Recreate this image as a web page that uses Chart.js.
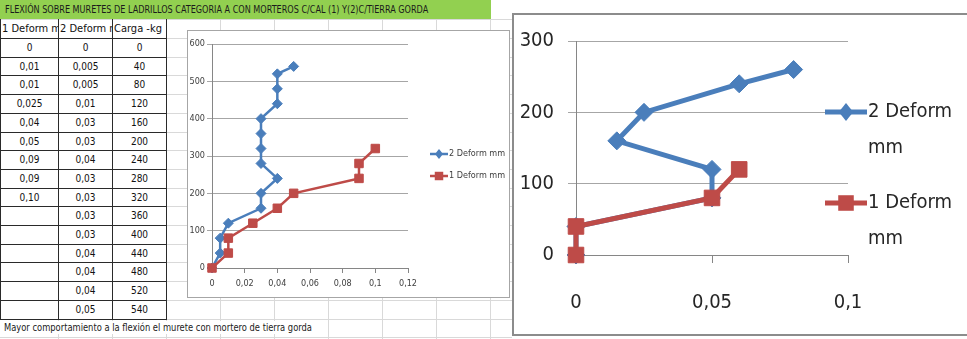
<!DOCTYPE html>
<html>
<head>
<meta charset="utf-8">
<script src="https://cdn.jsdelivr.net/npm/chart.js@4.4.0/dist/chart.umd.min.js"></script>
<style>
  body { margin: 0; width: 967px; height: 339px; overflow: hidden; background: #fff; position: relative;
         font-family: 'Liberation Sans Narrow', 'DejaVu Sans Condensed', sans-serif; }
  #sheet { position: absolute; left: 0; top: 0; width: 512px; height: 339px; }
  #title { position: absolute; left: 0; top: 0; width: 491px; height: 19px; background: #92d050; }
  .fit { position: absolute; white-space: nowrap; transform-origin: left top; color: #1b1b1b; }
  .cell { position: absolute; text-align: center; overflow: hidden; white-space: nowrap; font-size: 10px; color: #111; }
  .head { text-align: left; font-size: 11px; padding-left: 1px; box-sizing: border-box; }
  #box1 { position: absolute; left: 187px; top: 30px; width: 321px; height: 266px; border: 1px solid #a6a6a6; background: #fff; }
  #box2 { position: absolute; left: 512px; top: 13px; width: 460px; height: 319px; border: 2px solid #8c8c8c; background: #fff; }
  canvas { display: block; }
</style>
</head>
<body>
<div id="sheet"></div>
<div id="title"><span class="fit" id="titleTxt" style="left:5px;top:3px;font-size:11px">FLEXIÓN SOBRE MURETES DE LADRILLOS CATEGORIA A CON MORTEROS C/CAL (1) Y(2)C/TIERRA GORDA</span></div>
<span class="fit" id="footTxt" style="left:4px;top:321px;font-size:11px;background:#fff">Mayor comportamiento a la flexión el murete con mortero de tierra gorda</span>
<div id="box1"><canvas id="chart1" width="321" height="266"></canvas></div>
<div id="box2"><canvas id="chart2" width="453" height="319"></canvas></div>
<script>
// table / small chart data
const colHeaders = ['1 Deform mm', '2 Deform mm', 'Carga -kg']
const carga = [0, 40, 80, 120, 160, 200, 240, 280, 320, 360, 400, 440, 480, 520, 540]
const deform1 = [0, 0.01, 0.01, 0.025, 0.04, 0.05, 0.09, 0.09, 0.10]
const deform2 = [0, 0.005, 0.005, 0.01, 0.03, 0.03, 0.04, 0.03, 0.03, 0.03, 0.03, 0.04, 0.04, 0.04, 0.05]
const seriesNames = ['2 Deform mm', '1 Deform mm']
const xTicks1 = [0, 0.02, 0.04, 0.06, 0.08, 0.1, 0.12]
const yTicks1 = [0, 100, 200, 300, 400, 500, 600]

// enlarged chart on the right
const zoomCarga2 = [0, 40, 80, 120, 160, 200, 240, 260]
const zoomDeform2 = [0, 0, 0.05, 0.05, 0.015, 0.025, 0.06, 0.08]
const zoomCarga1 = [0, 40, 80, 120]
const zoomDeform1 = [0, 0, 0.05, 0.06]
const xTicks2 = [0, 0.05, 0.1]
const yTicks2 = [0, 100, 200, 300]

const BLUE = '#4a7ebb'
const RED = '#be4b48'
const FAMILY = "'Liberation Sans Narrow', 'DejaVu Sans Condensed', sans-serif"

const fmt = v => String(Math.round(v * 1000) / 1000).replace('.', ',')
function cellTxt(v) {
  if (v === undefined) return ''
  if (v === 0) return '0'
  const d = Math.max(2, (String(v).split('.')[1] || '').length)
  return v.toFixed(d).replace('.', ',')
}

// ---- spreadsheet ----
const sheet = document.getElementById('sheet')
function line(x, y, w, h, c) {
  const d = document.createElement('div')
  d.style.cssText = `position:absolute;left:${x}px;top:${Math.round(y)}px;width:${w}px;height:${h}px;background:${c}`
  sheet.appendChild(d)
}
function cell(x0, x1, y, h, txt, cls) {
  const d = document.createElement('div')
  d.className = 'cell ' + (cls || '')
  d.style.cssText += `left:${x0 + 1}px;top:${Math.round(y)}px;width:${x1 - x0 - 1}px;height:${h}px;line-height:${h}px`
  d.textContent = txt
  sheet.appendChild(d)
}
const colX = [0, 58, 112, 166, 220, 274, 328, 382, 436, 490]
const rowH = 18.7, top0 = 38
const rowLines = [19, top0]
for (let i = 1; i <= 16; i++) rowLines.push(top0 + i * rowH)
rowLines.forEach(y => line(0, y, 512, 1, '#d9d9d9'))
colX.slice(1).forEach(x => line(x, 19, 1, 320, '#d9d9d9'))

// table
const nRows = carga.length
const tBottom = Math.round(top0 + nRows * rowH)
colHeaders.forEach((h, j) => cell(colX[j], colX[j + 1], 19, 19, h, 'head'))
for (let i = 0; i < nRows; i++) {
  const y = top0 + i * rowH
  cell(colX[0], colX[1], y, 19, cellTxt(deform1[i]))
  cell(colX[1], colX[2], y, 19, cellTxt(deform2[i]))
  cell(colX[2], colX[3], y, 19, String(carga[i]))
}
for (let i = 0; i <= nRows; i++) line(0, top0 + i * rowH, 167, 1, '#2a2a2a')
;[0, 58, 112, 166].forEach(x => line(x, 19, 1, tBottom - 19 + 1, '#2a2a2a'))

// squeeze texts to the widths seen in the sheet
function fitWidth(id, w) {
  const el = document.getElementById(id)
  el.style.transform = `scaleX(${w / el.scrollWidth})`
}
fitWidth('titleTxt', 423)
fitWidth('footTxt', 308)

// ---- legend with line + marker, like the spreadsheet program ----
function marker(ctx, style, r, x, y) {
  ctx.beginPath()
  if (style === 'rectRot') {
    ctx.moveTo(x - r * 0.8, y); ctx.lineTo(x, y - r); ctx.lineTo(x + r * 0.8, y); ctx.lineTo(x, y + r)
  } else {
    const s = r * Math.SQRT1_2
    ctx.rect(x - s, y - s, 2 * s, 2 * s)
  }
  ctx.closePath()
  ctx.fill()
}
const sideLegend = {
  id: 'sideLegend',
  afterDraw(chart, args, o) {
    const ctx = chart.ctx
    ctx.save()
    ctx.font = `${o.size}px ${FAMILY}`
    ctx.textBaseline = 'middle'
    chart.data.datasets.forEach((ds, i) => {
      const y = o.y[i]
      ctx.strokeStyle = ds.borderColor
      ctx.lineWidth = ds.borderWidth
      ctx.beginPath(); ctx.moveTo(o.x, y); ctx.lineTo(o.x + o.len, y); ctx.stroke()
      ctx.fillStyle = ds.pointBackgroundColor
      marker(ctx, ds.pointStyle, ds.pointRadius, o.x + o.len / 2, y)
      // word wrap
      const words = ds.label.split(' ')
      const lines = []
      let cur = ''
      words.forEach(w => {
        const t = cur ? cur + ' ' + w : w
        if (cur && ctx.measureText(t).width > o.maxW) { lines.push(cur); cur = w } else cur = t
      })
      lines.push(cur)
      ctx.fillStyle = o.color
      lines.forEach((t, k) => ctx.fillText(t, o.x + o.len + 1, y + k * o.lineH))
    })
    ctx.restore()
  }
}

function points(xs, ys) { return xs.map((x, i) => ({ x: x, y: ys[i] })) }
function series(label, data, color, style, radius, width, order) {
  return {
    label: label, data: data, showLine: true, clip: false, order: order,
    borderColor: color, backgroundColor: color, borderWidth: width,
    pointStyle: style, pointRadius: radius, pointHoverRadius: radius,
    pointBackgroundColor: color, pointBorderColor: color, pointBorderWidth: 1
  }
}
function axis(ticksArr, opt) {
  return {
    type: 'linear', position: opt.pos, min: ticksArr[0], max: ticksArr[ticksArr.length - 1],
    afterBuildTicks: s => { s.ticks = ticksArr.map(v => ({ value: v })) },
    afterFit: s => { if (opt.pos === 'bottom') s.height = opt.fit; else s.width = opt.fit },
    ticks: { callback: v => fmt(v), autoSkip: false, maxRotation: 0, padding: opt.pad,
             color: opt.color, font: { family: FAMILY, size: opt.size } },
    grid: { drawOnChartArea: opt.pos !== 'bottom', tickLength: opt.tick, color: opt.grid },
    border: { display: true, color: '#868686' }
  }
}

// small chart inside the sheet
new Chart(document.getElementById('chart1'), {
  type: 'scatter',
  data: {
    datasets: [
      series(seriesNames[0], points(deform2, carga), BLUE, 'rectRot', 5, 2.5, 2),
      series(seriesNames[1], points(deform1, carga), RED, 'rect', 6, 2.5, 1)
    ]
  },
  options: {
    responsive: false, animation: false,
    layout: { padding: { top: 13, right: 101, left: 0, bottom: 0 } },
    plugins: {
      legend: { display: false }, tooltip: { enabled: false },
      sideLegend: { x: 242, y: [123, 145], len: 18, size: 9, lineH: 12, maxW: 200, color: '#404040' }
    },
    scales: {
      x: axis(xTicks1, { pos: 'bottom', fit: 29, pad: 5, tick: 5, size: 9, color: '#404040', grid: '#868686' }),
      y: axis(yTicks1, { pos: 'left', fit: 24, pad: 2, tick: 5, size: 9, color: '#404040', grid: '#a6a6a6' })
    }
  },
  plugins: [sideLegend]
})

// enlarged chart
new Chart(document.getElementById('chart2'), {
  type: 'scatter',
  data: {
    datasets: [
      series(seriesNames[0], points(zoomDeform2, zoomCarga2), BLUE, 'rectRot', 9, 5, 2),
      series(seriesNames[1], points(zoomDeform1, zoomCarga1), RED, 'rect', 11, 5, 1)
    ]
  },
  options: {
    responsive: false, animation: false,
    layout: { padding: { top: 17, right: 119, left: 0, bottom: 0 } },
    plugins: {
      legend: { display: false }, tooltip: { enabled: false },
      sideLegend: { x: 311, y: [97, 188], len: 42, size: 20, lineH: 36, maxW: 95, color: '#262626' }
    },
    scales: {
      x: axis(xTicks2, { pos: 'bottom', fit: 79, pad: 28, tick: 8, size: 20, color: '#262626', grid: '#868686' }),
      y: axis(yTicks2, { pos: 'left', fit: 62, pad: 14, tick: 8, size: 20, color: '#262626', grid: '#a6a6a6' })
    }
  },
  plugins: [sideLegend]
})
</script>
</body>
</html>
